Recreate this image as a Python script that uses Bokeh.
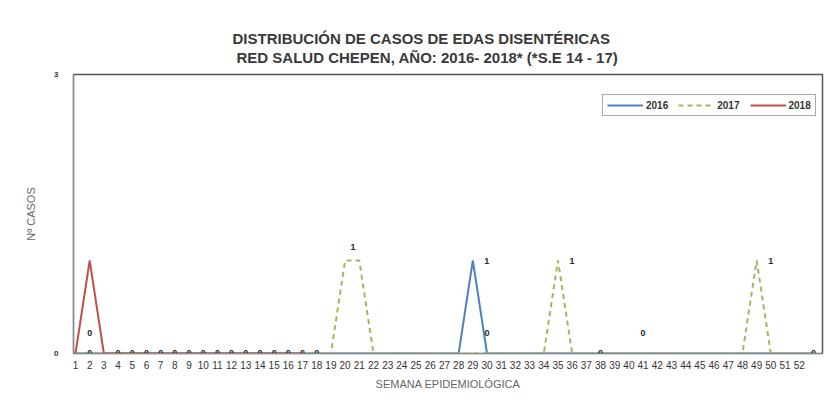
from bokeh.plotting import figure
from bokeh.models import Range1d, FixedTicker, Legend, LegendItem, Title
from bokeh.core.properties import value
from bokeh.embed import file_html
from bokeh.resources import INLINE

# ---- data ----
title_line1 = "DISTRIBUCIÓN DE CASOS DE EDAS DISENTÉRICAS"
title_line2 = "RED SALUD CHEPEN, AÑO: 2016- 2018* (*S.E 14 - 17)"
y_label = "Nº CASOS"
x_label = "SEMANA EPIDEMIOLÓGICA"

weeks = [1, 2, 3, 4, 5, 6, 7, 8, 9, 10, 11, 12, 13, 14, 15, 16, 17, 18, 19, 20,
         21, 22, 23, 24, 25, 26, 27, 28, 29, 30, 31, 32, 33, 34, 35, 36, 37, 38, 39, 40,
         41, 42, 43, 44, 45, 46, 47, 48, 49, 50, 51, 52, 53]
cases_2016 = [0, 0, 0, 0, 0, 0, 0, 0, 0, 0, 0, 0, 0, 0, 0, 0, 0, 0, 0, 0,
              0, 0, 0, 0, 0, 0, 0, 0, 1, 0, 0, 0, 0, 0, 0, 0, 0, 0, 0, 0,
              0, 0, 0, 0, 0, 0, 0, 0, 0, 0, 0, 0, 0]
cases_2017 = [0, 0, 0, 0, 0, 0, 0, 0, 0, 0, 0, 0, 0, 0, 0, 0, 0, 0, 0, 1,
              1, 0, 0, 0, 0, 0, 0, 0, 0, 0, 0, 0, 0, 0, 1, 0, 0, 0, 0, 0,
              0, 0, 0, 0, 0, 0, 0, 0, 1, 0, 0, 0, 0]
weeks_2018 = [1, 2, 3, 4, 5, 6, 7, 8, 9, 10, 11, 12, 13, 14, 15, 16, 17]
cases_2018 = [0, 1, 0, 0, 0, 0, 0, 0, 0, 0, 0, 0, 0, 0, 0, 0, 0]

tick_weeks = [1, 2, 3, 4, 5, 6, 7, 8, 9, 10, 11, 12, 13, 14, 15, 16, 17, 18, 19, 20,
              21, 22, 23, 24, 25, 26, 27, 28, 29, 30, 31, 32, 33, 34, 35, 36, 37, 38, 39, 40,
              41, 42, 43, 44, 45, 46, 47, 48, 49, 50, 51, 52]
y_ticks = [0, 3]

# data labels
one_lbl_weeks = [29, 35, 49]          # "1" labels to the right of peaks
one_lbl_vals = [1, 1, 1]
top_lbl_weeks = [20]                  # "1" label above the 2017 plateau
top_lbl_vals = [1]
zero_line_weeks = [2, 4, 5, 6, 7, 8, 9, 10, 11, 12, 13, 14, 15, 16, 17, 18, 38, 53]
zero_line_vals = [0, 0, 0, 0, 0, 0, 0, 0, 0, 0, 0, 0, 0, 0, 0, 0, 0, 0]
zero_up_weeks = [2, 30, 41]
zero_up_vals = [0, 0, 0]

FONT = "Liberation Sans"

p = figure(width=827, height=402, title=None,
           x_range=Range1d(0.86, 53.64), y_range=Range1d(0, 3),
           output_backend="svg", toolbar_location=None,
           min_border_left=73, min_border_right=5, min_border_top=74, min_border_bottom=49)
p.background_fill_color = "white"
p.border_fill_color = "white"
p.outline_line_color = "#555555"
p.outline_line_width = 1.5
p.xgrid.visible = False
p.ygrid.visible = False

p.add_layout(Title(text=title_line2, align="left", offset=163, text_font=FONT,
                   text_font_size="15px", text_font_style="bold", text_color="#3a3a3a",
                   standoff=18), "above")
p.add_layout(Title(text=title_line1, align="left", offset=159, text_font=FONT,
                   text_font_size="15px", text_font_style="bold", text_color="#3a3a3a",
                   standoff=-18), "above")

r16 = p.line(weeks, cases_2016, line_color="#4F81BD", line_width=2)
r17 = p.line(weeks, cases_2017, line_color="#9BBB59", line_width=2, line_dash="5 4")
r18 = p.line(weeks_2018, cases_2018, line_color="#C0504D", line_width=2)

lbl_style = dict(text_font=value(FONT), text_font_size="9px", text_font_style="bold",
                 text_color="#2a2a2a", text_align="center", text_baseline="middle")
p.text(one_lbl_weeks, one_lbl_vals, text=[str(v) for v in one_lbl_vals], x_offset=14, **lbl_style)
p.text(top_lbl_weeks, top_lbl_vals, text=[str(v) for v in top_lbl_vals], x_offset=8, y_offset=-14, **lbl_style)
p.text(zero_line_weeks, zero_line_vals, text=[str(v) for v in zero_line_vals], y_offset=-1, **lbl_style)
p.text(zero_up_weeks, zero_up_vals, text=[str(v) for v in zero_up_vals], y_offset=-21, **lbl_style)

# axes
p.xaxis.ticker = FixedTicker(ticks=tick_weeks)
p.xaxis.major_tick_line_color = None
p.xaxis.minor_tick_line_color = None
p.xaxis.axis_line_color = "#888888"
p.xaxis.major_label_text_font = FONT
p.xaxis.major_label_text_font_size = "10px"
p.xaxis.major_label_text_color = "#333333"
p.xaxis.major_label_standoff = 1
p.xaxis.axis_label = x_label
p.xaxis.axis_label_text_font = FONT
p.xaxis.axis_label_text_font_size = "11px"
p.xaxis.axis_label_text_font_style = "normal"
p.xaxis.axis_label_text_color = "#666666"
p.xaxis.axis_label_standoff = 6

p.yaxis.ticker = FixedTicker(ticks=y_ticks)
p.yaxis.major_tick_line_color = None
p.yaxis.minor_tick_line_color = None
p.yaxis.axis_line_color = "#888888"
p.yaxis.major_label_text_font = FONT
p.yaxis.major_label_text_font_size = "8px"
p.yaxis.major_label_text_font_style = "bold"
p.yaxis.major_label_text_color = "#333333"
p.yaxis.major_label_standoff = 9
p.yaxis.axis_label = y_label
p.yaxis.axis_label_text_font = FONT
p.yaxis.axis_label_text_font_size = "11px"
p.yaxis.axis_label_text_font_style = "normal"
p.yaxis.axis_label_text_color = "#666666"
p.yaxis.axis_label_standoff = 14

legend = Legend(items=[LegendItem(label="2016", renderers=[r16]),
                       LegendItem(label="2017", renderers=[r17]),
                       LegendItem(label="2018", renderers=[r18])],
                orientation="horizontal", location=(529, 237),
                label_text_font=FONT, label_text_font_size="10px", label_text_font_style="bold",
                label_text_color="#333333", glyph_width=36, glyph_height=12,
                label_standoff=3, spacing=10, padding=4, margin=0,
                border_line_color="#555555", border_line_width=1.5,
                background_fill_color="white")
p.add_layout(legend, "center")

open("out.html", "w").write(file_html(p, INLINE))
